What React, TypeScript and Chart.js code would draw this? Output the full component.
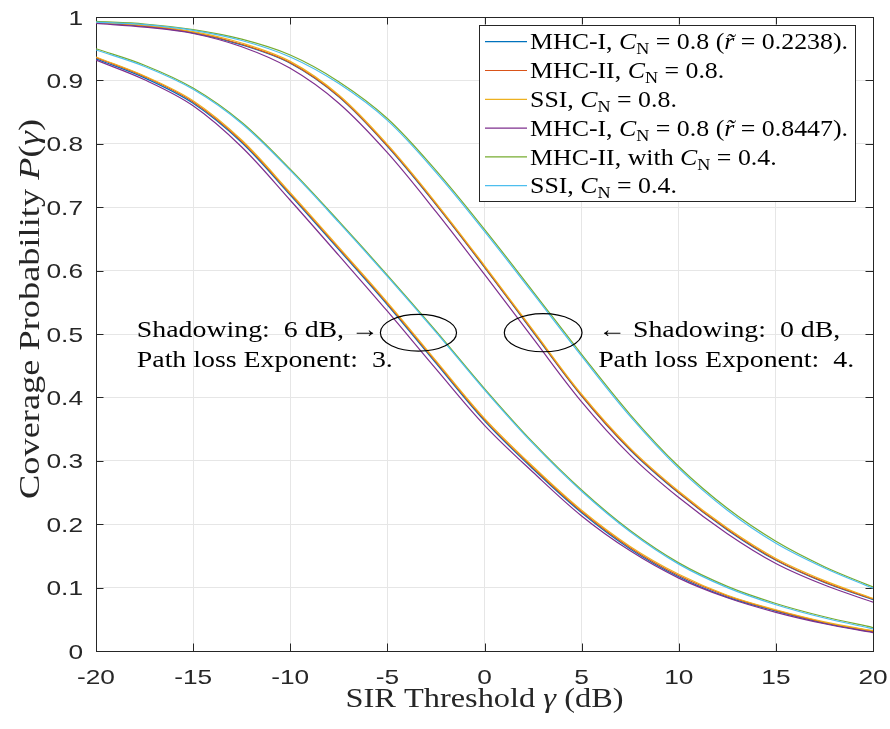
import React, { useEffect, useRef } from 'react';
import { Chart, registerables } from 'chart.js';

Chart.register(...registerables);

// ---------------- data ----------------
const SIR_DB = [-20, -17.5, -15, -12.5, -10, -7.5, -5, -2.5, 0, 2.5, 5, 7.5, 10, 12.5, 15, 17.5, 20];

// Shadowing 0 dB, path loss exponent 4
const MHC1_R02238_S0 = [0.991, 0.985, 0.975, 0.956, 0.927, 0.874, 0.796, 0.704, 0.605, 0.503, 0.402, 0.317, 0.249, 0.191, 0.143, 0.108, 0.081];
const MHC2_C08_S0 = [0.991, 0.986, 0.976, 0.957, 0.928, 0.875, 0.797, 0.705, 0.606, 0.504, 0.403, 0.318, 0.25, 0.192, 0.144, 0.109, 0.082];
const SSI_C08_S0 = [0.992, 0.987, 0.977, 0.959, 0.93, 0.877, 0.799, 0.707, 0.608, 0.506, 0.405, 0.32, 0.252, 0.194, 0.146, 0.111, 0.083];
const MHC1_R08447_S0 = [0.99, 0.984, 0.974, 0.953, 0.919, 0.864, 0.786, 0.693, 0.594, 0.493, 0.393, 0.309, 0.242, 0.185, 0.138, 0.104, 0.077];
const MHC2_C04_S0 = [0.993, 0.989, 0.98, 0.965, 0.94, 0.898, 0.84, 0.758, 0.665, 0.567, 0.468, 0.373, 0.291, 0.225, 0.173, 0.133, 0.101];
const SSI_C04_S0 = [0.992, 0.988, 0.979, 0.963, 0.937, 0.895, 0.837, 0.755, 0.662, 0.564, 0.465, 0.37, 0.288, 0.222, 0.17, 0.131, 0.099];

// Shadowing 6 dB, path loss exponent 3
const MHC1_R02238_S6 = [0.934, 0.904, 0.864, 0.802, 0.719, 0.633, 0.546, 0.454, 0.363, 0.287, 0.218, 0.161, 0.117, 0.085, 0.063, 0.044, 0.03];
const MHC2_C08_S6 = [0.936, 0.906, 0.866, 0.804, 0.721, 0.635, 0.548, 0.456, 0.365, 0.289, 0.22, 0.163, 0.119, 0.087, 0.064, 0.045, 0.031];
const SSI_C08_S6 = [0.937, 0.907, 0.868, 0.806, 0.723, 0.637, 0.55, 0.458, 0.367, 0.291, 0.222, 0.165, 0.121, 0.088, 0.065, 0.046, 0.032];
const MHC1_R08447_S6 = [0.932, 0.901, 0.86, 0.795, 0.711, 0.624, 0.536, 0.445, 0.356, 0.282, 0.213, 0.158, 0.115, 0.084, 0.061, 0.043, 0.029];
const MHC2_C04_S6 = [0.95, 0.924, 0.888, 0.834, 0.76, 0.678, 0.593, 0.505, 0.414, 0.329, 0.254, 0.19, 0.139, 0.102, 0.075, 0.054, 0.037];
const SSI_C04_S6 = [0.948, 0.922, 0.886, 0.832, 0.758, 0.676, 0.591, 0.503, 0.412, 0.327, 0.252, 0.188, 0.137, 0.1, 0.073, 0.052, 0.035];

const X_TICKS = [-20, -15, -10, -5, 0, 5, 10, 15, 20];
const X_TICK_LABELS = ['-20', '-15', '-10', '-5', '0', '5', '10', '15', '20'];
const Y_TICKS = [0, 0.1, 0.2, 0.3, 0.4, 0.5, 0.6, 0.7, 0.8, 0.9, 1];
const Y_TICK_LABELS = ['0', '0.1', '0.2', '0.3', '0.4', '0.5', '0.6', '0.7', '0.8', '0.9', '1'];

const SERIES_NAMES = [
  'MHC-I, C_N = 0.8 (r = 0.2238).',
  'MHC-II, C_N = 0.8.',
  'SSI, C_N = 0.8.',
  'MHC-I, C_N = 0.8 (r = 0.8447).',
  'MHC-II, with C_N = 0.4.',
  'SSI, C_N = 0.4.',
];
const SERIES_S0 = [MHC1_R02238_S0, MHC2_C08_S0, SSI_C08_S0, MHC1_R08447_S0, MHC2_C04_S0, SSI_C04_S0];
const SERIES_S6 = [MHC1_R02238_S6, MHC2_C08_S6, SSI_C08_S6, MHC1_R08447_S6, MHC2_C04_S6, SSI_C04_S6];
const COLORS = ['#0072BD', '#D95319', '#EDB120', '#7E2F8E', '#77AC30', '#4DBEEE'];

// rich legend text (italic / subscript pieces)
type Seg = { t: string; i?: boolean; sub?: boolean };
const LEGEND_SEGS: Seg[][] = [
  [{ t: 'MHC-I, ' }, { t: 'C', i: true }, { t: 'N', sub: true }, { t: ' = 0.8 (' }, { t: 'r\u0303', i: true }, { t: ' = 0.2238).' }],
  [{ t: 'MHC-II, ' }, { t: 'C', i: true }, { t: 'N', sub: true }, { t: ' = 0.8.' }],
  [{ t: 'SSI, ' }, { t: 'C', i: true }, { t: 'N', sub: true }, { t: ' = 0.8.' }],
  [{ t: 'MHC-I, ' }, { t: 'C', i: true }, { t: 'N', sub: true }, { t: ' = 0.8 (' }, { t: 'r\u0303', i: true }, { t: ' = 0.8447).' }],
  [{ t: 'MHC-II, with ' }, { t: 'C', i: true }, { t: 'N', sub: true }, { t: ' = 0.4.' }],
  [{ t: 'SSI, ' }, { t: 'C', i: true }, { t: 'N', sub: true }, { t: ' = 0.4.' }],
];

const X_TITLE: Seg[] = [{ t: 'SIR Threshold ' }, { t: '\u03b3', i: true }, { t: ' (dB)' }];
const Y_TITLE: Seg[] = [{ t: 'Coverage Probability ' }, { t: 'P', i: true }, { t: '(' }, { t: '\u03b3', i: true }, { t: ')' }];

const NOTE_LEFT: Seg[][] = [[{ t: 'Shadowing:  6 dB, \u2192' }], [{ t: 'Path loss Exponent:  3.' }]];
const NOTE_RIGHT: Seg[][] = [[{ t: '\u2190 Shadowing:  0 dB,' }], [{ t: 'Path loss Exponent:  4.' }]];
// ellipse centres / radii in data units [x dB, y, rx dB, ry]
const ELLIPSES = [
  [-3.4, 0.502, 1.96, 0.029],
  [3.02, 0.502, 2.0, 0.03],
];

// ---------------- drawing helpers ----------------
const SERIF = '"Liberation Serif", "Times New Roman", serif';
const SANS = '"Liberation Sans", Arial, Helvetica, sans-serif';
const AXIS_COLOR = '#262626';

function segFont(s: Seg, size: number, fam: string) {
  const sz = s.sub ? size * 0.7 : size;
  return `${s.i ? 'italic ' : ''}${sz}px ${fam}`;
}
function measureSegs(ctx: CanvasRenderingContext2D, segs: Seg[], size: number, fam: string) {
  let w = 0;
  for (const s of segs) {
    ctx.font = segFont(s, size, fam);
    w += ctx.measureText(s.t).width;
  }
  return w;
}
function drawSegs(
  ctx: CanvasRenderingContext2D,
  segs: Seg[],
  size: number,
  fam: string,
  x: number,
  y: number,
  sx: number,
  align: 'left' | 'center' | 'right',
  color: string,
  rotate = false,
) {
  const w = measureSegs(ctx, segs, size, fam);
  ctx.save();
  ctx.translate(x, y);
  if (rotate) ctx.rotate(-Math.PI / 2);
  ctx.scale(sx, 1);
  ctx.fillStyle = color;
  ctx.textAlign = 'left';
  ctx.textBaseline = 'alphabetic';
  let cx = align === 'left' ? 0 : align === 'center' ? -w / 2 : -w;
  for (const s of segs) {
    ctx.font = segFont(s, size, fam);
    ctx.fillText(s.t, cx, s.sub ? size * 0.22 : 0);
    cx += ctx.measureText(s.t).width;
  }
  ctx.restore();
}

const decorPlugin = {
  id: 'matlabDecor',
  beforeDatasetsDraw(chart: any) {
    const ctx: CanvasRenderingContext2D = chart.ctx;
    const { left, right, top, bottom } = chart.chartArea;
    const xs = chart.scales.x;
    const ys = chart.scales.y;
    ctx.save();
    ctx.strokeStyle = AXIS_COLOR;
    ctx.lineWidth = 1;
    ctx.strokeRect(Math.round(left) + 0.5, Math.round(top) + 0.5, Math.round(right - left), Math.round(bottom - top));
    ctx.beginPath();
    const TL = 7.5;
    for (const v of X_TICKS) {
      const px = Math.round(xs.getPixelForValue(v)) + 0.5;
      ctx.moveTo(px, bottom);
      ctx.lineTo(px, bottom - TL);
      ctx.moveTo(px, top);
      ctx.lineTo(px, top + TL);
    }
    for (const v of Y_TICKS) {
      const py = Math.round(ys.getPixelForValue(v)) + 0.5;
      ctx.moveTo(left, py);
      ctx.lineTo(left + TL, py);
      ctx.moveTo(right, py);
      ctx.lineTo(right - TL, py);
    }
    ctx.stroke();
    ctx.restore();
  },
  afterDraw(chart: any) {
    const ctx: CanvasRenderingContext2D = chart.ctx;
    const { left, right, top, bottom } = chart.chartArea;
    const xs = chart.scales.x;
    const ys = chart.scales.y;

    // tick labels
    const TICK_SIZE = 21;
    const TICK_SX = 1.25;
    X_TICKS.forEach((v, i) => {
      drawSegs(ctx, [{ t: X_TICK_LABELS[i] }], TICK_SIZE, SANS, xs.getPixelForValue(v), bottom + 33, TICK_SX, 'center', AXIS_COLOR);
    });
    Y_TICKS.forEach((v, i) => {
      drawSegs(ctx, [{ t: Y_TICK_LABELS[i] }], TICK_SIZE, SANS, left - 13, ys.getPixelForValue(v) + 7.5, TICK_SX, 'right', AXIS_COLOR);
    });

    // axis titles
    const TITLE_SIZE = 27;
    const xTitleSx = 278 / measureSegs(ctx, X_TITLE, TITLE_SIZE, SERIF);
    drawSegs(ctx, X_TITLE, TITLE_SIZE, SERIF, (left + right) / 2, bottom + 56, xTitleSx, 'center', AXIS_COLOR);
    const Y_TITLE_SIZE = 29;
    const yTitleSx = 380 / measureSegs(ctx, Y_TITLE, Y_TITLE_SIZE, SERIF);
    drawSegs(ctx, Y_TITLE, Y_TITLE_SIZE, SERIF, 39, 309, yTitleSx, 'center', AXIS_COLOR, true);

    // annotations
    const NOTE_SIZE = 24;
    const noteSx = 256 / measureSegs(ctx, NOTE_LEFT[1], NOTE_SIZE, SERIF);
    const yMid = ys.getPixelForValue(0.5);
    const lx = xs.getPixelForValue(-17.9);
    const rx = xs.getPixelForValue(5.85);
    NOTE_LEFT.forEach((segs, i) => drawSegs(ctx, segs, NOTE_SIZE, SERIF, lx, yMid + 3 + i * 30, noteSx, 'left', '#000'));
    NOTE_RIGHT.forEach((segs, i) => drawSegs(ctx, segs, NOTE_SIZE, SERIF, rx, yMid + 3 + i * 30, noteSx, 'left', '#000'));
    ctx.save();
    ctx.strokeStyle = '#000';
    ctx.lineWidth = 1.2;
    for (const [cx, cy, rdx, rdy] of ELLIPSES) {
      const px = xs.getPixelForValue(cx);
      const py = ys.getPixelForValue(cy);
      const rpx = Math.abs(xs.getPixelForValue(cx + rdx) - px);
      const rpy = Math.abs(ys.getPixelForValue(cy + rdy) - py);
      ctx.beginPath();
      ctx.ellipse(px, py, rpx, rpy, 0, 0, Math.PI * 2);
      ctx.stroke();
    }
    ctx.restore();

    // legend
    const LEG_SIZE = 23;
    const legSx = 318 / measureSegs(ctx, LEGEND_SEGS[0], LEG_SIZE, SERIF);
    const bx = 479.5, by = 25.5, bw = 376, bh = 176;
    ctx.save();
    ctx.fillStyle = '#fff';
    ctx.fillRect(bx, by, bw, bh);
    ctx.strokeStyle = AXIS_COLOR;
    ctx.lineWidth = 1;
    ctx.strokeRect(bx, by, bw, bh);
    chart.data.datasets.slice(0, SERIES_NAMES.length).forEach((ds: any, i: number) => {
      const cy = 41.7 + i * 28.8;
      ctx.strokeStyle = ds.borderColor;
      ctx.lineWidth = 1.2;
      ctx.beginPath();
      ctx.moveTo(485, cy);
      ctx.lineTo(527, cy);
      ctx.stroke();
      drawSegs(ctx, LEGEND_SEGS[i], LEG_SIZE, SERIF, 530, cy + 7.6, legSx, 'left', '#000');
    });
    ctx.restore();
  },
};

export default function App() {
  const ref = useRef<HTMLCanvasElement>(null);
  useEffect(() => {
    const canvas = ref.current;
    if (!canvas) return;
    const datasets: any[] = [];
    const drawOrder = [6, 5, 4, 3, 2, 1];
    SERIES_NAMES.forEach((name, i) => {
      datasets.push({
        label: name,
        data: SIR_DB.map((x, k) => ({ x, y: SERIES_S0[i][k] })),
        borderColor: COLORS[i],
        order: drawOrder[i],
      });
    });
    SERIES_NAMES.forEach((name, i) => {
      datasets.push({
        label: name + ' (6 dB)',
        data: SIR_DB.map((x, k) => ({ x, y: SERIES_S6[i][k] })),
        borderColor: COLORS[i],
        order: drawOrder[i],
      });
    });
    const gridCfg = { color: '#e6e6e6', lineWidth: 1, drawTicks: false };
    const chart = new Chart(canvas, {
      type: 'line',
      data: { datasets },
      options: {
        animation: false,
        responsive: false,
        devicePixelRatio: 1,
        layout: { padding: { top: 17, right: 17, left: 0, bottom: 0 } },
        plugins: { legend: { display: false }, tooltip: { enabled: false } },
        elements: {
          point: { radius: 0 },
          line: { borderWidth: 1.2, tension: 0.35 },
        },
        scales: {
          x: {
            type: 'linear',
            min: -20,
            max: 20,
            ticks: { display: false, stepSize: 5 },
            grid: gridCfg,
            border: { display: false },
            afterFit: (s: any) => {
              s.height = 78;
            },
          },
          y: {
            type: 'linear',
            min: 0,
            max: 1,
            ticks: { display: false, stepSize: 0.1 },
            grid: gridCfg,
            border: { display: false },
            afterFit: (s: any) => {
              s.width = 96;
            },
          },
        },
      } as any,
      plugins: [decorPlugin],
    });
    return () => chart.destroy();
  }, []);
  return (
    <div style={{ position: 'fixed', left: 0, top: 0, width: 890, height: 729, background: '#fff' }}>
      <canvas ref={ref} width={890} height={729} style={{ display: 'block' }} />
    </div>
  );
}
